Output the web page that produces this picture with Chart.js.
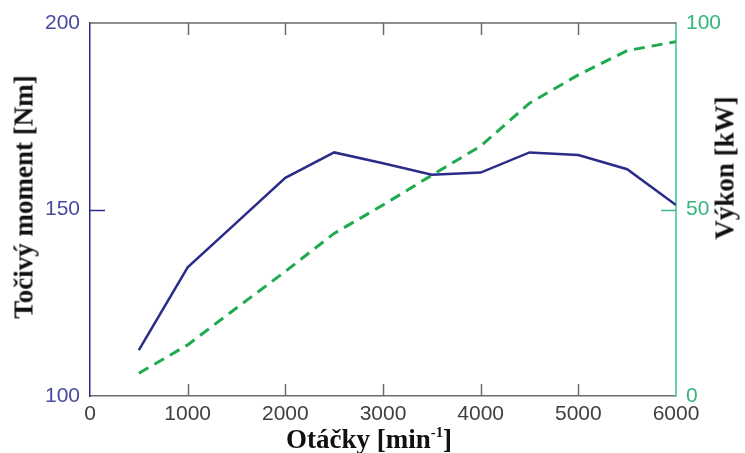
<!DOCTYPE html>
<html>
<head>
<meta charset="utf-8">
<script src="https://cdn.jsdelivr.net/npm/chart.js@4"></script>
<style>
  body { margin: 0; background: #fff; }
  #wrap { position: relative; width: 745px; height: 453px; }
  .axis-title {
    position: absolute;
    font-family: "Liberation Serif", "Times New Roman", serif;
    font-weight: bold;
    color: #111;
    white-space: nowrap;
    transform-origin: center center;
  }
  .axis-title sup { font-size: 0.55em; vertical-align: 0.7em; line-height: 0; }
</style>
</head>
<body>
<div id="wrap">
  <canvas id="torqueChart" width="745" height="453"></canvas>
  <div class="axis-title" id="titleLeft" style="left:24px; top:197px; font-size:27px; transform:translate(-50%,-50%) rotate(-90deg);">Točivý moment [Nm]</div>
  <div class="axis-title" id="titleRight" style="left:725px; top:168px; font-size:27px; transform:translate(-50%,-50%) rotate(-90deg);">Výkon [kW]</div>
  <div class="axis-title" id="titleBottom" style="left:369px; top:439px; font-size:27px; transform:translate(-50%,-50%);">Otáčky [min<sup>-1</sup>]</div>
</div>
<script>
// engine speed (rpm) and the two curves
const rpm = [500, 1000, 1500, 2000, 2500, 3000, 3500, 4000, 4500, 5000, 5500, 6000];
const torque = [112.3, 134.5, 146.5, 158.5, 165.3, 162.4, 159.3, 159.9, 165.3, 164.6, 160.8, 151.2];
const power = [6.1, 13.7, 23.6, 33.4, 43.6, 51.2, 59.2, 67.0, 78.5, 86.1, 92.6, 95.0];

const xTicks = [0, 1000, 2000, 3000, 4000, 5000, 6000];
const torqueTicks = [100, 150, 200];
const powerTicks = [0, 50, 100];

const navy = "#2b2b88";
const green = "#1eaa4e";
const tealAxis = "#6ad3a6";

// inward tick marks + top frame line, placed with the chart's own scales
const frameTicks = {
  id: "frameTicks",
  afterDatasetsDraw(chart) {
    const ctx = chart.ctx;
    const { left, right, top, bottom } = chart.chartArea;
    const x = chart.scales.x, y = chart.scales.y, y1 = chart.scales.y1;
    ctx.save();
    ctx.lineWidth = 1.5;
    ctx.strokeStyle = "#6b6b6b";
    ctx.beginPath();
    ctx.moveTo(left, top);
    ctx.lineTo(right, top);
    xTicks.slice(1, -1).forEach(v => {
      const px = Math.round(x.getPixelForValue(v)) + 0.5;
      ctx.moveTo(px, bottom);
      ctx.lineTo(px, bottom - 12);
      ctx.moveTo(px, top);
      ctx.lineTo(px, top + 12);
    });
    ctx.stroke();

    ctx.strokeStyle = navy;
    ctx.beginPath();
    torqueTicks.slice(1, -1).forEach(v => {
      const py = Math.round(y.getPixelForValue(v)) + 0.5;
      ctx.moveTo(left, py);
      ctx.lineTo(left + 15, py);
    });
    ctx.stroke();

    ctx.strokeStyle = "#3dbb80";
    ctx.beginPath();
    powerTicks.slice(1, -1).forEach(v => {
      const py = Math.round(y1.getPixelForValue(v)) + 0.5;
      ctx.moveTo(right, py);
      ctx.lineTo(right - 15, py);
    });
    ctx.stroke();
    ctx.restore();
  }
};

const plain = v => String(v);

const ctx = document.getElementById("torqueChart").getContext("2d");
const chart = new Chart(ctx, {
  type: "line",
  data: {
    datasets: [
      {
        label: "Točivý moment",
        data: rpm.map((r, i) => ({ x: r, y: torque[i] })),
        yAxisID: "y",
        borderColor: navy,
        borderWidth: 2.5,
        pointRadius: 0,
        tension: 0,
        fill: false,
      },
      {
        label: "Výkon",
        data: rpm.map((r, i) => ({ x: r, y: power[i] })),
        yAxisID: "y1",
        borderColor: green,
        borderWidth: 3,
        borderDash: [11, 7],
        pointRadius: 0,
        tension: 0,
        fill: false,
      },
    ],
  },
  options: {
    responsive: false,
    animation: false,
    layout: { padding: { top: 23, left: 0, right: 0, bottom: 0 } },
    plugins: { legend: { display: false }, tooltip: { enabled: false } },
    scales: {
      x: {
        type: "linear",
        position: "bottom",
        min: 0,
        max: 6000,
        afterBuildTicks: s => { s.ticks = xTicks.map(v => ({ value: v })); },
        afterFit: s => { s.height = 57; },
        grid: { display: false, drawTicks: false },
        border: { display: true, color: "#6b6b6b", width: 1.5 },
        ticks: {
          color: "#404040",
          padding: 6,
          maxRotation: 0,
          callback: plain,
          font: { family: "Liberation Sans", size: 21 },
        },
      },
      y: {
        position: "left",
        min: 100,
        max: 200,
        afterBuildTicks: s => { s.ticks = torqueTicks.map(v => ({ value: v })); },
        afterFit: s => { s.width = 90; },
        grid: { display: false, drawTicks: false },
        border: { display: true, color: navy, width: 1.5 },
        ticks: {
          color: "#4a4a9e",
          padding: 10,
          callback: plain,
          font: { family: "Liberation Sans", size: 21 },
        },
      },
      y1: {
        position: "right",
        min: 0,
        max: 100,
        afterBuildTicks: s => { s.ticks = powerTicks.map(v => ({ value: v })); },
        afterFit: s => { s.width = 69; },
        grid: { display: false, drawTicks: false },
        border: { display: true, color: tealAxis, width: 2 },
        ticks: {
          color: "#35b57c",
          padding: 10,
          callback: plain,
          font: { family: "Liberation Sans", size: 21 },
        },
      },
    },
  },
  plugins: [frameTicks],
});
</script>
</body>
</html>
